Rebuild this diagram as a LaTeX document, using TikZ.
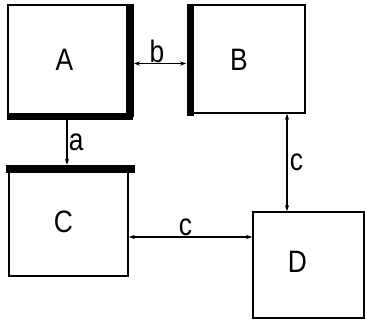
\documentclass[tikz,border=0pt]{standalone}
\usepackage{fontspec}
\setmainfont{Liberation Sans}[FakeStretch=0.85]
\usetikzlibrary{arrows.meta}

\begin{document}
\begin{tikzpicture}[x=1pt, y=-1pt,
    box/.style={draw, line width=1.5pt, inner sep=0pt},
    bar/.style={line width=7.5pt},
    lbl/.style={font=\fontsize{31}{34}\selectfont},
    link/.style={line width=1.3pt, >={Stealth[length=6pt, width=4pt]}}]
  \useasboundingbox (0,0) rectangle (365,320);

  % Boxes
  \node[box, minimum width=121pt, minimum height=111pt] (A) at (68.5,60.5) {};
  \node[box, minimum width=114pt, minimum height=108pt] (B) at (248,59) {};
  \node[box, minimum width=119pt, minimum height=106pt] (C) at (68.5,223) {};
  \node[box, minimum width=111pt, minimum height=106pt] (D) at (308.5,265) {};

  % Thick sides
  \draw[bar] (A.north east) -- (A.south east);
  \draw[bar] (A.south west) -- ([xshift=3.7pt]A.south east);
  \draw[bar] (B.north west) -- ([yshift=-2pt]B.south west);
  \draw[bar] ([xshift=-2pt]C.north west) -- ([xshift=6pt]C.north east);

  % Box labels
  \node[lbl] at ([shift={(-4,-1)}]A.center) {A};
  \node[lbl] at ([shift={(-9,1)}]B.center) {B};
  \node[lbl] at ([shift={(-5,-1)}]C.center) {C};
  \node[lbl] at ([shift={(-11,-3)}]D.center) {D};

  % Connectors
  \draw[link, <->] ([shift={(4,3)}]A.east) -- ([shift={(-4,3)}]A.east -| B.west)
    node[lbl, midway, above=-3pt, xshift=-3pt] {b};
  \draw[link, ->] ([shift={(-1.5,3.5)}]A.south) -- ([shift={(-1.5,-4.5)}]A.south |- C.north)
    node[lbl, midway, right=-2pt] {a};
  \draw[link, <->] ([xshift=39pt]B.south) -- ([xshift=39pt]B.south |- D.north)
    node[lbl, midway, right=-1pt] {c};
  \draw[link, <->] ([yshift=-14pt]C.east) -- ([yshift=-14pt]C.east -| D.west)
    node[lbl, midway, above=-3pt, xshift=-5pt] {c};

\end{tikzpicture}
\end{document}
